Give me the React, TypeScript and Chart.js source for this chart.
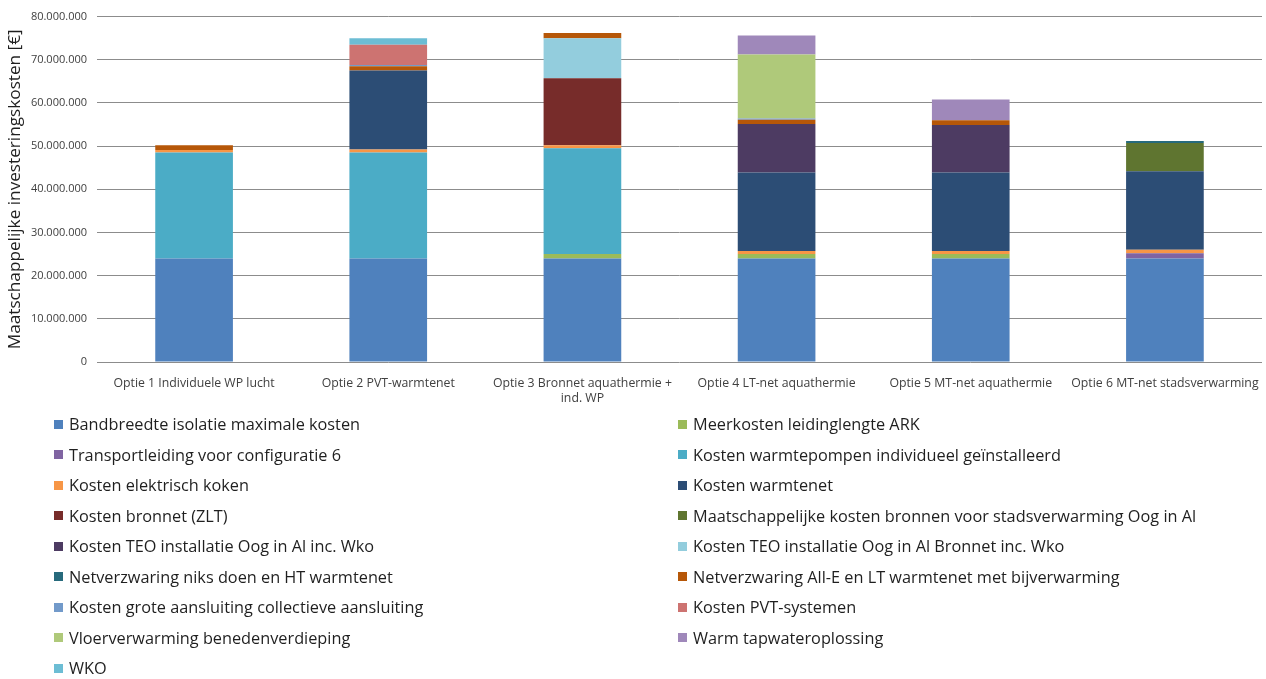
import React, { useEffect, useRef } from "react";
import { Chart, registerables } from "chart.js";

Chart.register(...registerables);

const categories: (string | string[])[] = [
  "Optie 1 Individuele WP lucht",
  "Optie 2 PVT-warmtenet",
  ["Optie 3 Bronnet aquathermie +", "ind. WP"],
  "Optie 4 LT-net aquathermie",
  "Optie 5 MT-net aquathermie",
  "Optie 6 MT-net stadsverwarming",
];

const seriesNames = [
  "Bandbreedte isolatie maximale kosten",
  "Meerkosten leidinglengte ARK",
  "Transportleiding voor configuratie 6",
  "Kosten warmtepompen individueel geïnstalleerd",
  "Kosten elektrisch koken",
  "Kosten warmtenet",
  "Kosten bronnet (ZLT)",
  "Maatschappelijke kosten bronnen voor stadsverwarming Oog in Al",
  "Kosten TEO installatie Oog in Al inc. Wko",
  "Kosten TEO installatie Oog in Al Bronnet inc. Wko",
  "Netverzwaring niks doen en HT warmtenet",
  "Netverzwaring All-E en LT warmtenet met bijverwarming",
  "Kosten grote aansluiting collectieve aansluiting",
  "Kosten PVT-systemen",
  "Vloerverwarming benedenverdieping",
  "Warm tapwateroplossing",
  "WKO",
];

const seriesColors = [
  "#4F81BD",
  "#9BBB59",
  "#8064A2",
  "#4BACC6",
  "#F79646",
  "#2C4D75",
  "#772C2A",
  "#5F7530",
  "#4D3B62",
  "#93CDDD",
  "#276A7C",
  "#B65708",
  "#729ACA",
  "#CD7371",
  "#AFC97A",
  "#9F88BA",
  "#6CBDD4",
];

const bandbreedte = [24000000, 24000000, 24000000, 24000000, 24000000, 24000000];
const meerkostenArk = [0, 0, 1000000, 1000000, 1000000, 0];
const transportleiding = [0, 0, 0, 0, 0, 1200000];
const warmtepompen = [24500000, 24500000, 24500000, 0, 0, 0];
const elektrischKoken = [600000, 700000, 700000, 700000, 700000, 800000];
const warmtenet = [0, 18300000, 0, 18200000, 18200000, 18200000];
const bronnet = [0, 0, 15500000, 0, 0, 0];
const stadsverwarming = [0, 0, 0, 0, 0, 6500000];
const teoWko = [0, 0, 0, 11200000, 11000000, 0];
const teoBronnet = [0, 0, 9300000, 0, 0, 0];
const netverzwaringNiks = [0, 0, 0, 0, 0, 500000];
const netverzwaringAllE = [1100000, 1000000, 1200000, 1000000, 1100000, 0];
const groteAansluiting = [0, 300000, 0, 300000, 0, 0];
const pvtSystemen = [0, 4700000, 0, 0, 0, 0];
const vloerverwarming = [0, 0, 0, 14800000, 0, 0];
const tapwater = [0, 0, 0, 4400000, 4800000, 0];
const wko = [0, 1500000, 0, 0, 0, 0];

const seriesValues = [
  bandbreedte,
  meerkostenArk,
  transportleiding,
  warmtepompen,
  elektrischKoken,
  warmtenet,
  bronnet,
  stadsverwarming,
  teoWko,
  teoBronnet,
  netverzwaringNiks,
  netverzwaringAllE,
  groteAansluiting,
  pvtSystemen,
  vloerverwarming,
  tapwater,
  wko,
];

const yMin = 0;
const yMax = 80000000;
const yStep = 10000000;

const fmt = (v: number) =>
  String(Math.round(v)).replace(/\B(?=(\d{3})+(?!\d))/g, ".");

const FONT = "'Open Sans', Lato, sans-serif";

export default function App() {
  const canvasRef = useRef<HTMLCanvasElement | null>(null);

  useEffect(() => {
    const canvas = canvasRef.current;
    if (!canvas) return;
    const chart = new Chart(canvas, {
      type: "bar",
      data: {
        labels: categories,
        datasets: seriesNames.map((name, i) => ({
          label: name,
          data: seriesValues[i],
          backgroundColor: seriesColors[i],
          borderWidth: 0,
          categoryPercentage: 1,
          barPercentage: 0.4,
        })),
      },
      options: {
        responsive: false,
        animation: false,
        layout: { padding: { top: 14, right: 4, left: 0, bottom: 0 } },
        plugins: {
          legend: { display: false },
          tooltip: { enabled: false },
        },
        scales: {
          x: {
            stacked: true,
            grid: { display: false },
            border: { display: false },
            ticks: {
              color: "#404040",
              font: { family: FONT, size: 12.3, lineHeight: 1.3 },
              padding: 5,
              maxRotation: 0,
              autoSkip: false,
            },
            afterFit: (scale: any) => {
              scale.height = 48;
            },
          },
          y: {
            stacked: true,
            min: yMin,
            max: yMax,
            grid: { color: "#8C8C8C", drawTicks: false, lineWidth: 1 },
            border: { display: false },
            ticks: {
              stepSize: yStep,
              color: "#404040",
              font: { family: FONT, size: 11 },
              padding: 10,
              callback: (v: any) => fmt(Number(v)),
            },
            title: {
              display: true,
              text: "Maatschappelijke investeringskosten [€]",
              color: "#1f1f1f",
              font: { family: FONT, size: 17.2 },
              padding: { top: 5, bottom: 0 },
            },
            afterFit: (scale: any) => {
              scale.width = 97;
            },
          },
        },
      },
    });
    return () => chart.destroy();
  }, []);

  return (
    <div style={{ position: "absolute", left: 0, top: 0, width: 1266, height: 679, background: "#fff" }}>
      <canvas
        ref={canvasRef}
        width={1266}
        height={410}
        style={{ position: "absolute", left: 0, top: 0, width: 1266, height: 410 }}
      />
      <div
        style={{
          position: "absolute",
          left: 0,
          top: 409,
          width: 1266,
          display: "grid",
          gridTemplateColumns: "678px 588px",
          gridAutoRows: "30.5px",
          fontFamily: FONT,
          fontSize: 16.3,
          color: "#1f1f1f",
        }}
      >
        {seriesNames.map((name, i) => (
          <div
            key={name}
            style={{
              display: "flex",
              alignItems: "center",
              paddingLeft: i % 2 === 0 ? 54 : 0,
              whiteSpace: "nowrap",
            }}
          >
            <span
              style={{
                display: "inline-block",
                width: 9,
                height: 9,
                background: seriesColors[i],
                marginRight: 6,
                flex: "none",
              }}
            />
            <span>{name}</span>
          </div>
        ))}
      </div>
    </div>
  );
}
